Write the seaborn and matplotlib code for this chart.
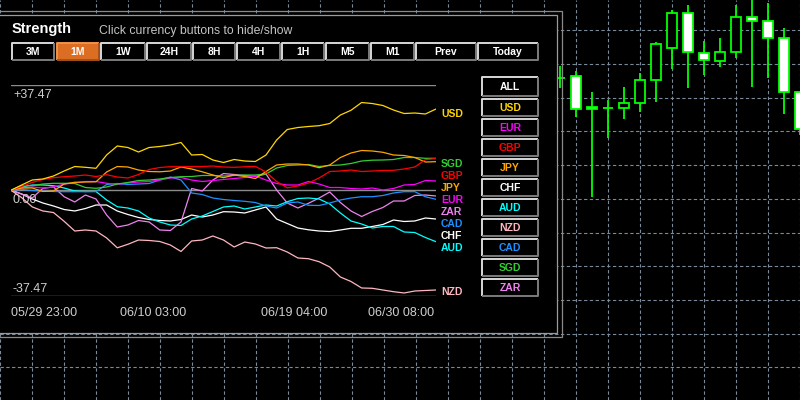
import numpy as np
import pandas as pd
import matplotlib
matplotlib.use("Agg")
import matplotlib.pyplot as plt
from matplotlib.patches import Rectangle
import seaborn as sns

# ---------------- data ----------------
currencies = ["USD", "EUR", "GBP", "JPY", "CHF", "AUD", "NZD", "CAD", "SGD", "ZAR"]
currency_colors = {"USD": "#FFD700", "EUR": "#FF00FF", "GBP": "#FF0000", "JPY": "#FFA500",
                   "CHF": "#FFFFFF", "AUD": "#00FFFF", "NZD": "#FFB6C1", "CAD": "#1E90FF",
                   "SGD": "#32CD32", "ZAR": "#EE82EE"}

usd = [0, 1.86, 3.63, 3.99, 5.05, 6.82, 8.41, 8.13, 7.78, 12.5, 15.68, 15.15, 13.55, 15.15, 15.5,
       16.03, 16.92, 12.49, 12.67, 10.72, 9.83, 10.89, 10.36, 10.19, 12.49, 17.8, 21.52, 22.23,
       22.59, 22.87, 23.65, 26.66, 28.33, 31.09, 30.73, 30.03, 28.43, 27.19, 27.37, 27.02, 28.79]
eur = [0, 0.8, 1.15, 0.8, 1.15, 2.21, 2.57, 3.1, 3.1, 2.46, 2.11, 2.57, 2.92, 3.1, 3.63, 4.34,
       4.52, 3.63, 3.1, 3.45, 3.81, 4.16, 4.52, 5.05, 3.63, 2.39, 1.86, 1.86, 3.1, 2.21, 0.97,
       0.97, 0.62, 0.44, 0.8, 0.09, 0.62, 1.86, 2.04, 3.45, 3.28]
gbp = [0, 1.33, 2.75, 3.81, 4.45, 4.80, 5.05, 5.40, 4.87, 5.51, 4.69, 4.34, 5.58, 7.35, 8.06,
       8.34, 8.34, 8.41, 8.41, 8.59, 8.24, 8.13, 8.31, 8.45, 6.47, 3.10, 0.87, 1.51, 2.57, 4.34,
       6.64, 6.82, 7.17, 6.64, 6.82, 7.00, 7.07, 7.53, 8.24, 10.82, 11.25]
jpy = [0, 0.8, 0.8, -0.44, -0.27, 2.21, 2.82, 2.92, 2.99, 6.47, 8.41, 8.24, 7.17, 6.64, 6.54,
       6.82, 8.24, 7.53, 6.54, 5.40, 4.45, 5.40, 4.87, 4.16, 6.64, 8.95, 9.30, 9.30, 8.95, 7.99,
       8.95, 11.6, 13.2, 14.08, 13.91, 13.45, 12.49, 12.31, 11.60, 10.0, 10.12]
chf = [0, -1.33, -3.1, -4.52, -5.58, -6.82, -7.35, -6.47, -5.23, -5.23, -7.35, -8.59, -9.65,
       -10.36, -10.72, -10.89, -10.36, -8.77, -9.48, -8.77, -7.6, -7.71, -8.06, -7.0, -5.93,
       -10.19, -11.78, -13.38, -14.01, -14.44, -14.62, -14.08, -13.48, -13.48, -12.84, -12.14,
       -10.54, -11.07, -10.89, -9.83, -10.19]
aud = [0, 1.15, 1.86, 1.86, 1.61, 0.8, -0.27, -0.44, -0.44, -3.45, -5.83, -6.29, -7.35, -9.83,
       -11.25, -12.31, -12.49, -10.19, -9.12, -7.53, -5.93, -5.58, -6.64, -5.93, -5.23, -5.58,
       -4.06, -2.92, -2.75, -3.1, -4.87, -8.06, -10.89, -11.96, -13.38, -12.84, -12.84, -14.79,
       -14.97, -16.74, -18.23]
nzd = [0, -2.6, -5.9, -7.35, -7.9, -11.0, -14.44, -14.08, -14.44, -16.9, -20.4, -19.15, -17.63,
       -17.8, -18.16, -19.40, -21.7, -17.98, -17.63, -16.21, -17.63, -20.11, -18.34, -19.04,
       -20.46, -20.36, -21.88, -24.0, -24.26, -25.32, -27.19, -30.74, -32.33, -34.63, -34.74,
       -35.34, -35.94, -36.4, -35.70, -35.52, -35.34]
cad = [0, 0.27, -0.09, -0.27, -0.44, -0.51, -0.51, -0.51, -0.44, 2.04, 2.39, 2.04, 2.21, 2.39,
       3.63, 4.69, 3.63, -0.97, -1.51, -2.75, -3.28, -3.63, -3.92, -4.34, -5.58, -6.29, -4.52,
       -4.16, -5.33, -5.40, -4.52, -3.45, -2.75, -2.29, -2.29, -1.86, -0.97, -0.51, -0.51,
       -2.29, -3.21]
sgd = [0, 1.61, 1.61, 2.21, 2.46, 2.46, 2.39, 0.97, 0.69, 1.15, 2.21, 2.75, 3.45, 3.63, 3.99,
       4.52, 4.80, 4.87, 5.23, 5.23, 5.05, 5.23, 5.40, 5.40, 5.76, 7.88, 8.77, 8.95, 9.12, 8.41,
       8.77, 8.95, 9.48, 10.36, 10.65, 10.72, 10.89, 11.60, 11.60, 11.32, 11.32]
zar = [0, -1.33, -2.75, 0.69, 1.15, -2.29, -4.16, -1.68, -3.1, -8.77, -13.02, -12.31, -10.72,
       -11.25, -14.08, -14.26, -11.25, 0.62, -0.27, 3.63, 5.93, 5.58, 5.23, 4.87, 5.76, 0.09,
       -4.52, -6.29, -4.62, -2.75, -0.62, -4.34, -7.35, -9.3, -7.53, -6.11, -3.81, -3.81, -1.86,
       -1.68, -2.04]

scale_max = 37.47
time_labels = ["05/29 23:00", "06/10 03:00", "06/19 04:00", "06/30 08:00"]
period_buttons = ["3M", "1M", "1W", "24H", "8H", "4H", "1H", "M5", "M1", "Prev", "Today"]
active_period = "1M"
legend_buttons = ["ALL"] + currencies

# background price chart (candles)
bar_index = list(range(35, 51))
c_open = [1.08719, 1.08727, 1.08545, 1.08541, 1.08537, 1.08567, 1.08703, 1.08893, 1.09101,
          1.08864, 1.08816, 1.08873, 1.09077, 1.09053, 1.08953, 1.08632]
c_high = [1.08790, 1.08758, 1.08632, 1.08586, 1.08662, 1.08745, 1.08929, 1.09120, 1.09150,
          1.08937, 1.08956, 1.09150, 1.09180, 1.09160, 1.09012, 1.08632]
c_low = [1.08656, 1.08484, 1.08009, 1.08359, 1.08472, 1.08517, 1.08576, 1.08770, 1.08659,
         1.08735, 1.08784, 1.08837, 1.08665, 1.08715, 1.08501, 1.08379]
c_close = [1.08719, 1.08531, 1.08531, 1.08541, 1.08567, 1.08703, 1.08917, 1.09101, 1.08869,
           1.08822, 1.08869, 1.09077, 1.09053, 1.08953, 1.08632, 1.08412]

# ---------------- figure ----------------
sns.set_theme(style="dark")
plt.rcParams['font.family'] = ['Liberation Sans', 'DejaVu Sans']

W, H = 800, 400
fig = plt.figure(figsize=(8, 4), dpi=100, facecolor="black")

# --- candle chart in background ---
axc = fig.add_axes([0, 0, 1, 1], zorder=0)
axc.set_facecolor("black")
axc.set_xlim(0, 50)
axc.set_ylim(1.06806, 1.091798)
axc.set_xticks(np.arange(0, 51, 2))
axc.set_yticks(np.arange(1.070, 1.0901, 0.002))
axc.grid(True, color="#7a8a9a", linestyle=(0, (3, 2.2)), linewidth=0.8)
axc.tick_params(length=0, labelbottom=False, labelleft=False)
for s in axc.spines.values():
    s.set_visible(False)
green = "#00FF00"
axc.vlines(bar_index, c_low, c_high, color=green, lw=1.3, zorder=3)
bodies_bottom = [min(o, c) for o, c in zip(c_open, c_close)]
bodies_h = [abs(c - o) for o, c in zip(c_open, c_close)]
fills = ["white" if c < o else "black" for o, c in zip(c_open, c_close)]
axc.bar(bar_index, bodies_h, bottom=bodies_bottom, width=0.6, color=fills,
        edgecolor=green, linewidth=1.3, zorder=4)

# --- panel overlay (pixel coordinates) ---
axp = fig.add_axes([0, 0, 1, 1], zorder=1)
axp.set_xlim(0, W)
axp.set_ylim(H, 0)
axp.axis("off")
axp.patch.set_alpha(0)

axp.add_patch(Rectangle((-2, 11), 564, 326, fill=False, ec="#8a8a8a", lw=0.9))
axp.add_patch(Rectangle((-2, 15), 559, 318, fc="black", ec="#9a9a9a", lw=0.9))

axp.text(12, 32.7, "Strength", color="white", fontsize=10.5, fontweight="bold",
         ha="left", va="baseline")
axp.text(99, 34, "Click currency buttons to hide/show", color="#c4c4c4", fontsize=8.8,
         ha="left", va="baseline")


def button(x, y, w, h, label, tcolor, fc="black", light="#d8d8d8", dark="#7c7c7c"):
    axp.add_patch(Rectangle((x, y), w, h, fc=fc, ec="none"))
    axp.plot([x, x, x + w], [y + h, y, y], color=light, lw=1.4, solid_capstyle="butt")
    axp.plot([x, x + w, x + w], [y + h, y + h, y], color=dark, lw=1.4, solid_capstyle="butt")
    axp.text(x + w / 2, y + h / 2 + 0.6, label, color=tcolor, fontsize=7.5, fontweight="bold",
             ha="center", va="center")


btn_x = [12, 57, 101, 147, 193, 237, 282, 326, 371, 416, 478]
btn_w = [42, 42, 44, 44, 42, 43, 42, 43, 43, 60, 60]
for lab, bx, bw in zip(period_buttons, btn_x, btn_w):
    if lab == active_period:
        button(bx, 42.5, bw, 17, lab, "white", fc="#dc6e24", light="#f0924a", dark="#a8501a")
    else:
        button(bx, 42.5, bw, 17, lab, "white")

for k, lab in enumerate(legend_buttons):
    col = "white" if lab == "ALL" else currency_colors[lab]
    if k == 0:
        button(482, 76.5, 56, 19, lab, col)
    else:
        button(482, 99 + 20 * (k - 1), 56, 16.5, lab, col)

# --- strength plot ---
x0, x1, ytop, ybot = 11, 436, 84.5, 296
ax = fig.add_axes([x0 / W, 1 - ybot / H, (x1 - x0) / W, (ybot - ytop) / H], zorder=2)
ax.patch.set_alpha(0)
for s in ax.spines.values():
    s.set_visible(False)
ax.set_xlim(0, len(usd) - 1)
ax.set_ylim(-scale_max, scale_max)
ax.set_xticks([])
ax.set_yticks([])
ax.set_xlabel("")
ax.set_ylabel("")

for yv in (scale_max, 0, -scale_max):
    ax.axhline(yv, color="#8c8c8c", lw=1.0, zorder=1)

series = {"USD": usd, "EUR": eur, "GBP": gbp, "JPY": jpy, "CHF": chf, "AUD": aud,
          "NZD": nzd, "CAD": cad, "SGD": sgd, "ZAR": zar}
rows = []
for cur, vals in series.items():
    for i, v in enumerate(vals):
        rows.append({"t": i, "strength": v, "currency": cur})
df = pd.DataFrame(rows)
draw_order = ["NZD", "CHF", "ZAR", "AUD", "CAD", "EUR", "SGD", "JPY", "GBP", "USD"]
sns.lineplot(data=df, x="t", y="strength", hue="currency", hue_order=draw_order,
             palette=currency_colors, estimator=None, linewidth=0.9, legend=False, ax=ax,
             zorder=3)
ax.set_xlabel("")
ax.set_ylabel("")

lab_col = "#cfcfcf"
ax.annotate(f"+{scale_max:.2f}", xy=(0, scale_max), xytext=(1.4, -9.9),
            textcoords="offset points", ha="left", va="baseline", color=lab_col, fontsize=9)
ax.annotate("0.00", xy=(0, 0), xytext=(1.4, -9.2),
            textcoords="offset points", ha="left", va="baseline", color=lab_col, fontsize=9,
            zorder=2)
ax.annotate(f"-{scale_max:.2f}", xy=(0, -scale_max), xytext=(1.4, 3.1),
            textcoords="offset points", ha="left", va="baseline", color=lab_col, fontsize=9)

n = len(usd) - 1
for j, tl in enumerate(time_labels):
    pos = n * j / (len(time_labels) - 1)
    ha = "left" if j == 0 else ("right" if j == len(time_labels) - 1 else "center")
    dx = 0 if j == 0 else (-1.2 if j == len(time_labels) - 1 else 0)
    ax.annotate(tl, xy=(pos, -scale_max), xytext=(dx, -14.4), textcoords="offset points",
                ha=ha, va="baseline", color=lab_col, fontsize=9, annotation_clip=False)

# currency labels at the right end, stacked to avoid overlap
units_per_px = 2 * scale_max / (ybot - ytop)
ends = sorted(((series[c][-1], c) for c in currencies), reverse=True)
placed = []
prev = None
for val, cur in ends:
    lv = val - 5.5 * units_per_px
    if prev is not None and lv > prev - 12 * units_per_px:
        lv = prev - 12 * units_per_px
    lv = max(lv, -scale_max + 4.3 * units_per_px)
    prev = lv
    ax.annotate(cur, xy=(n, lv), xytext=(3.6, 0), textcoords="offset points",
                ha="left", va="center", color=currency_colors[cur], fontsize=7.5,
                fontweight="bold", annotation_clip=False)

fig.savefig("out.png", dpi=100, facecolor="black")
